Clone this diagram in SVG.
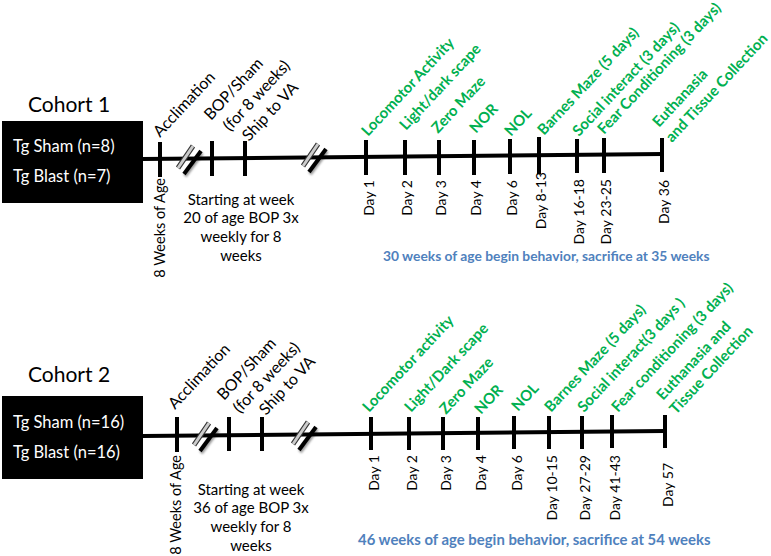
<svg xmlns="http://www.w3.org/2000/svg" width="771" height="556" viewBox="0 0 771 556">
<defs>
<style>
text{font-family:Lato,"Liberation Sans",sans-serif;fill:#000}
.h{font-size:21px}
.w{fill:#fff;font-size:16.5px}
.b{font-size:16px}
.n{font-size:15px}
.d{font-size:14px}
.s{font-size:14.5px}
.g{fill:#00B050;font-weight:bold;font-size:15px}
.bl{fill:#4F81BD;font-weight:bold;font-size:13.8px}
.ax{stroke:#000;stroke-width:4;fill:none}
.tk{stroke:#000;stroke-width:4}
</style>
<filter id="sh" x="-50%" y="-50%" width="200%" height="200%"><feDropShadow dx="1" dy="2" stdDeviation="1" flood-color="#000" flood-opacity="0.4"/></filter>
<g id="brk">
<line x1="-11" y1="9" x2="4" y2="-13" stroke="#333" stroke-width="5"/>
<line x1="-11" y1="9" x2="4" y2="-13" stroke="#ccc" stroke-width="3"/>
<line x1="-5" y1="15" x2="12" y2="-8" stroke="#000" stroke-width="4" filter="url(#sh)"/>
</g>
</defs>
<rect width="771" height="556" fill="#fff"/>

<g id="cohort1">
<text class="h" x="28" y="112">Cohort 1</text>
<g id="c1box"><rect x="2" y="121" width="141" height="82" fill="#000"/>
<text class="w" x="13" y="152">Tg Sham (n=8)</text>
<text class="w" x="13" y="182">Tg Blast (n=7)</text></g>
<g id="c1connectors">
<line class="ax" x1="142" y1="159" x2="663" y2="154"/>
<line class="tk" x1="160" y1="142" x2="160" y2="177"/>
<line class="tk" x1="212" y1="141" x2="212" y2="176"/>
<line class="tk" x1="245" y1="141" x2="245" y2="176"/>
<line class="tk" x1="366" y1="140" x2="366" y2="175"/>
<line class="tk" x1="405" y1="140" x2="405" y2="175"/>
<line class="tk" x1="439" y1="140" x2="439" y2="175"/>
<line class="tk" x1="474" y1="140" x2="474" y2="175"/>
<line class="tk" x1="510" y1="139" x2="510" y2="174"/>
<line class="tk" x1="539" y1="137" x2="539" y2="174"/>
<line class="tk" x1="577" y1="139" x2="577" y2="173"/>
<line class="tk" x1="604" y1="138" x2="604" y2="173"/>
<line class="tk" x1="662" y1="138" x2="662" y2="172"/>
<use href="#brk" x="189" y="159"/>
<use href="#brk" x="314" y="157"/>
</g>
<g id="c1top">
<text class="b" transform="translate(160,138) rotate(-47)">Acclimation</text>
<text class="b" transform="translate(211,121) rotate(-47)">BOP/Sham</text>
<text class="b" transform="translate(230,132) rotate(-47)">(for 8 weeks)</text>
<text class="b" transform="translate(249,142) rotate(-47)">Ship to VA</text>
</g>
<g id="c1green">
<text class="g" transform="translate(368,137) rotate(-47)">Locomotor Activity</text>
<text class="g" transform="translate(406,131) rotate(-47)">Light/dark scape</text>
<text class="g" transform="translate(438,134) rotate(-47)">Zero Maze</text>
<text class="g" transform="translate(476,134) rotate(-47)">NOR</text>
<text class="g" transform="translate(511,137) rotate(-47)">NOL</text>
<text class="g" transform="translate(544,136) rotate(-47)">Barnes Maze (5 days)</text>
<text class="g" transform="translate(579,137) rotate(-47)">Social interact (3 days)</text>
<text class="g" transform="translate(604,135) rotate(-47)">Fear Conditioning (3 days)</text>
<text class="g" transform="translate(659,128) rotate(-47)">Euthanasia</text>
<text class="g" transform="translate(672,143) rotate(-47)">and Tissue Collection</text>
</g>
<g id="c1days" text-anchor="end">
<text class="s" transform="translate(165,178) rotate(-90)">8 Weeks of Age</text>
<text class="d" transform="translate(374,180) rotate(-90)">Day 1</text>
<text class="d" transform="translate(412,180) rotate(-90)">Day 2</text>
<text class="d" transform="translate(446,180) rotate(-90)">Day 3</text>
<text class="d" transform="translate(481,180) rotate(-90)">Day 4</text>
<text class="d" transform="translate(517,180) rotate(-90)">Day 6</text>
<text class="d" transform="translate(546,172) rotate(-90)">Day 8-13</text>
<text class="d" transform="translate(584,179) rotate(-90)">Day 16-18</text>
<text class="d" transform="translate(611,179) rotate(-90)">Day 23-25</text>
<text class="d" transform="translate(669,180) rotate(-90)">Day 36</text>
</g>
<g id="c1note" text-anchor="middle">
<text class="n" x="241" y="205">Starting at week</text>
<text class="n" x="241" y="223">20 of age BOP 3x</text>
<text class="n" x="241" y="242">weekly for 8</text>
<text class="n" x="241" y="261">weeks</text>
</g>
<text id="c1blue" class="bl" x="383" y="261">30 weeks of age begin behavior, sacrifice at 35 weeks</text>
</g>

<g id="cohort2">
<text class="h" x="28" y="382">Cohort 2</text>
<g id="c2box"><rect x="2" y="396" width="141" height="83" fill="#000"/>
<text class="w" x="13" y="428">Tg Sham (n=16)</text>
<text class="w" x="13" y="458">Tg Blast (n=16)</text></g>
<g id="c2connectors">
<line class="ax" x1="143" y1="436" x2="665" y2="431"/>
<line class="tk" x1="177" y1="417" x2="177" y2="452"/>
<line class="tk" x1="229" y1="417" x2="229" y2="451"/>
<line class="tk" x1="262" y1="417" x2="262" y2="451"/>
<line class="tk" x1="371" y1="417" x2="371" y2="450"/>
<line class="tk" x1="409" y1="417" x2="409" y2="450"/>
<line class="tk" x1="443" y1="417" x2="443" y2="450"/>
<line class="tk" x1="478" y1="417" x2="478" y2="450"/>
<line class="tk" x1="514" y1="416" x2="514" y2="449"/>
<line class="tk" x1="549" y1="416" x2="549" y2="449"/>
<line class="tk" x1="582" y1="416" x2="582" y2="449"/>
<line class="tk" x1="612" y1="415" x2="612" y2="448"/>
<line class="tk" x1="665" y1="415" x2="665" y2="448"/>
<use href="#brk" x="205" y="436"/>
<use href="#brk" x="304" y="435"/>
</g>
<g id="c2top">
<text class="b" transform="translate(175,410) rotate(-47)">Acclimation</text>
<text class="b" transform="translate(224,401) rotate(-47)">BOP/Sham</text>
<text class="b" transform="translate(240,414) rotate(-47)">(for 8 weeks)</text>
<text class="b" transform="translate(266,416) rotate(-47)">Ship to VA</text>
</g>
<g id="c2green">
<text class="g" transform="translate(369,413) rotate(-47)">Locomotor activity</text>
<text class="g" transform="translate(411,413) rotate(-47)">Light/Dark scape</text>
<text class="g" transform="translate(446,415) rotate(-47)">Zero Maze</text>
<text class="g" transform="translate(481,415) rotate(-47)">NOR</text>
<text class="g" transform="translate(518,412) rotate(-47)">NOL</text>
<text class="g" transform="translate(551,413) rotate(-47)">Barnes Maze (5 days)</text>
<text class="g" transform="translate(584,413) rotate(-47)">Social interact(3 days )</text>
<text class="g" transform="translate(618,413) rotate(-47)">Fear conditioning (3 days)</text>
<text class="g" transform="translate(663,401) rotate(-47)">Euthanasia and</text>
<text class="g" transform="translate(676,415) rotate(-47)">Tissue Collection</text>
</g>
<g id="c2days" text-anchor="end">
<text class="s" transform="translate(181,455) rotate(-90)">8 Weeks of Age</text>
<text class="d" transform="translate(379,455) rotate(-90)">Day 1</text>
<text class="d" transform="translate(417,455) rotate(-90)">Day 2</text>
<text class="d" transform="translate(451,455) rotate(-90)">Day 3</text>
<text class="d" transform="translate(486,455) rotate(-90)">Day 4</text>
<text class="d" transform="translate(522,455) rotate(-90)">Day 6</text>
<text class="d" transform="translate(557,455) rotate(-90)">Day 10-15</text>
<text class="d" transform="translate(590,455) rotate(-90)">Day 27-29</text>
<text class="d" transform="translate(620,455) rotate(-90)">Day 41-43</text>
<text class="d" transform="translate(673,463) rotate(-90)">Day 57</text>
</g>
<g id="c2note" text-anchor="middle">
<text class="n" x="251" y="495">Starting at week</text>
<text class="n" x="251" y="513">36 of age BOP 3x</text>
<text class="n" x="251" y="532">weekly for 8</text>
<text class="n" x="251" y="551">weeks</text>
</g>
<text id="c2blue" class="bl" x="358" y="545" style="font-size:14.9px">46 weeks of age begin behavior, sacrifice at 54 weeks</text>
</g>
</svg>
